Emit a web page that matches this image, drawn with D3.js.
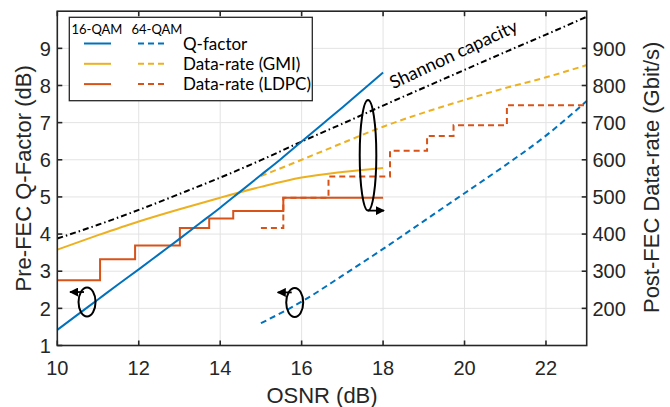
<!DOCTYPE html>
<html><head><meta charset="utf-8">
<script src="https://cdn.jsdelivr.net/npm/d3@7"></script>
<style>
html,body{margin:0;padding:0;background:#fff;}
svg{display:block;}
</style></head>
<body>
<svg id="chart" width="670" height="407"></svg>
<script>
// ---- data ----
const xTicks = [10, 12, 14, 16, 18, 20, 22];
const yLeftTicks = [1, 2, 3, 4, 5, 6, 7, 8, 9];
const yRightTicks = [200, 300, 400, 500, 600, 700, 800, 900];

// Q-factor (dB) vs OSNR (dB)
const q16Osnr = [10, 10.5, 11, 11.5, 12, 12.5, 13, 13.5, 14, 14.5, 15, 15.5, 16, 16.5, 17, 17.5, 18];
const q16Val  = [1.42, 1.83, 2.24, 2.65, 3.05, 3.46, 3.87, 4.29, 4.71, 5.15, 5.59, 6.03, 6.49, 6.95, 7.41, 7.88, 8.35];
const q64Osnr = [15, 16, 17, 18, 19, 20, 21, 22, 23];
const q64Val  = [1.6, 2.18, 2.88, 3.6, 4.35, 5.1, 5.85, 6.65, 7.58];

// Data-rate (GMI), Gbit/s
const gmi16Osnr = [10, 11, 12, 13, 14, 15, 16, 17, 18];
const gmi16Val  = [358, 397, 434, 467, 498, 527, 552, 567, 578];
const gmi64Osnr = [15, 16, 17, 18, 19, 20, 21, 22, 23];
const gmi64Val  = [556, 600, 645, 689, 727, 761, 793, 822, 855];

// Data-rate (LDPC), Gbit/s (step changes)
const ldpc16Osnr = [10, 11.05, 11.91, 13.01, 13.73, 14.32, 15.55, 18];
const ldpc16Val  = [276, 332, 369, 416, 442, 462, 498, 498];
const ldpc64Osnr = [15.0, 15.55, 16.66, 18.17, 19.08, 19.73, 21.04, 23];
const ldpc64Val  = [416, 498, 555, 624, 664, 693, 747, 747];

// Shannon capacity, Gbit/s
const shannonOsnr = [10, 11, 12, 13, 14, 15, 16, 17, 18, 19, 20, 21, 22, 23];
const shannonVal  = [388, 425, 465, 508, 552, 599, 649, 697, 746, 794, 842, 890, 937, 985];

// annotation ellipses (data coords: osnr, left-axis value)
const ellipseOsnr = [10.73, 15.83, 17.63];
const ellipseQ    = [2.17, 2.16, 6.12];

// ---- layout ----
const L = 57.3, R = 586.7, T = 11.2, B = 345.5;
const svg = d3.select("#chart");

const x = d3.scaleLinear().domain([10, 23]).range([L, R]);
const yL = d3.scaleLinear().domain([1, 10]).range([B, T]);
const yR = d3.scaleLinear().domain([100, 1000]).range([B, T]);

const C_BLUE = "#0072BD", C_YEL = "#EDB120", C_RED = "#D95319";
const tickFont = "'Liberation Sans', Arial, sans-serif";
const legFont = "Lato, 'Open Sans', sans-serif";

// grid
const grid = svg.append("g");
grid.selectAll("line.gx").data(xTicks.filter(d => d > 10)).join("line")
  .attr("x1", d => x(d)).attr("x2", d => x(d)).attr("y1", T).attr("y2", B)
  .attr("stroke", "#e3e3e3").attr("stroke-width", 1);
grid.selectAll("line.gy").data(yLeftTicks.filter(d => d > 1)).join("line")
  .attr("x1", L).attr("x2", R).attr("y1", d => yL(d)).attr("y2", d => yL(d))
  .attr("stroke", "#e3e3e3").attr("stroke-width", 1);

const plot = svg.append("g");
function zip(a, b) { return a.map((v, i) => [v, b[i]]); }
function drawLine(xs, ys, yScale, color, dash, curve) {
  const gen = d3.line().x(d => x(d[0])).y(d => yScale(d[1])).curve(curve || d3.curveMonotoneX);
  plot.append("path").datum(zip(xs, ys)).attr("d", gen)
    .attr("fill", "none").attr("stroke", color).attr("stroke-width", 2)
    .attr("stroke-dasharray", dash || null);
}
const DASH = "6,4";
drawLine(shannonOsnr, shannonVal, yR, "#000", "6,3,1.5,3");
drawLine(gmi16Osnr, gmi16Val, yR, C_YEL);
drawLine(gmi64Osnr, gmi64Val, yR, C_YEL, DASH);
drawLine(ldpc64Osnr, ldpc64Val, yR, C_RED, DASH, d3.curveStepAfter);
drawLine(ldpc16Osnr, ldpc16Val, yR, C_RED, null, d3.curveStepAfter);
drawLine(q16Osnr, q16Val, yL, C_BLUE);
drawLine(q64Osnr, q64Val, yL, C_BLUE, DASH);

// axes box
const ax = svg.append("g").attr("stroke", "#262626").attr("stroke-width", 1.6);
ax.append("rect").attr("x", L).attr("y", T).attr("width", R - L).attr("height", B - T)
  .attr("fill", "none");
const TL = 5;
xTicks.forEach(d => {
  ax.append("line").attr("x1", x(d)).attr("x2", x(d)).attr("y1", B).attr("y2", B - TL);
  ax.append("line").attr("x1", x(d)).attr("x2", x(d)).attr("y1", T).attr("y2", T + TL);
});
yLeftTicks.forEach(d => {
  ax.append("line").attr("x1", L).attr("x2", L + TL).attr("y1", yL(d)).attr("y2", yL(d));
});
yRightTicks.forEach(d => {
  ax.append("line").attr("x1", R).attr("x2", R - TL).attr("y1", yR(d)).attr("y2", yR(d));
});

// tick labels
const tl = svg.append("g").attr("font-family", tickFont).attr("font-size", 20).attr("fill", "#262626");
tl.selectAll("text.xt").data(xTicks).join("text")
  .attr("x", d => x(d)).attr("y", 374.5).attr("text-anchor", "middle").text(d => d);
tl.selectAll("text.yl").data(yLeftTicks).join("text")
  .attr("x", L - 6.5).attr("y", d => yL(d) + 7.2).attr("text-anchor", "end").text(d => d);
tl.selectAll("text.yr").data(yRightTicks).join("text")
  .attr("x", R + 5.7).attr("y", d => yR(d) + 7.2).attr("text-anchor", "start").text(d => d);

// axis titles
const at = svg.append("g").attr("font-family", tickFont).attr("font-size", 22).attr("fill", "#262626");
at.append("text").attr("x", (L + R) / 2).attr("y", 402.5).attr("text-anchor", "middle").text("OSNR (dB)");
at.append("text").attr("transform", `translate(30.5,${(T + B) / 2}) rotate(-90)`)
  .attr("text-anchor", "middle").text("Pre-FEC Q-Factor (dB)");
at.append("text").attr("transform", `translate(659,${(T + B) / 2 - 1}) rotate(-90)`)
  .attr("text-anchor", "middle").text("Post-FEC Data-rate (Gbit/s)");

// annotations
svg.append("defs").html(`
  <marker id="ah" viewBox="0 0 10 10" refX="9" refY="5" markerWidth="5" markerHeight="5" orient="auto-start-reverse">
    <path d="M0,0 L10,5 L0,10 z" fill="#000"/>
  </marker>`);
const ann = svg.append("g").attr("stroke", "#000").attr("stroke-width", 2).attr("fill", "none");
const ellRx = [8.5, 8.5, 8.3], ellRy = [14.5, 14.5, 55.3];
ellipseOsnr.forEach((o, i) => {
  ann.append("ellipse").attr("cx", x(o)).attr("cy", yL(ellipseQ[i])).attr("rx", ellRx[i]).attr("ry", ellRy[i]);
});
[0, 1].forEach(i => {
  const cx = x(ellipseOsnr[i]), cy = yL(ellipseQ[i]) - 10;
  ann.append("line").attr("x1", cx - 3).attr("y1", cy).attr("x2", cx - 17).attr("y2", cy)
    .attr("stroke-width", 1.8).attr("marker-end", "url(#ah)");
});
{
  const cx = x(ellipseOsnr[2]), cy = yL(ellipseQ[2]) + ellRy[2];
  ann.append("line").attr("x1", cx).attr("y1", cy).attr("x2", cx + 16).attr("y2", cy)
    .attr("stroke-width", 1.8).attr("marker-end", "url(#ah)");
}

// Shannon capacity label
svg.append("text").attr("font-family", legFont).attr("font-size", 18).attr("fill", "#000")
  .attr("transform", `translate(${x(18.25)},${yL(7.9)}) rotate(-25)`)
  .text("Shannon capacity");

// legend
const lg = svg.append("g");
lg.append("rect").attr("x", 69.3).attr("y", 17.3).attr("width", 243).attr("height", 83.4)
  .attr("fill", "#fff").attr("stroke", "#262626").attr("stroke-width", 1.3);
lg.append("text").attr("x", 71.5).attr("y", 33.5).attr("font-family", legFont).attr("font-size", 13).text("16-QAM");
lg.append("text").attr("x", 131.5).attr("y", 33.5).attr("font-family", legFont).attr("font-size", 13).text("64-QAM");
const legNames = ["Q-factor", "Data-rate (GMI)", "Data-rate (LDPC)"];
const legColors = [C_BLUE, C_YEL, C_RED];
legNames.forEach((n, i) => {
  const yy = 43.5 + i * 20.3;
  lg.append("line").attr("x1", 84).attr("x2", 111).attr("y1", yy).attr("y2", yy)
    .attr("stroke", legColors[i]).attr("stroke-width", 2);
  lg.append("line").attr("x1", 138).attr("x2", 165).attr("y1", yy).attr("y2", yy)
    .attr("stroke", legColors[i]).attr("stroke-width", 2).attr("stroke-dasharray", "6,4");
  lg.append("text").attr("x", 183).attr("y", yy + 6).attr("font-family", legFont)
    .attr("font-size", 17).attr("fill", "#000").text(n);
});
</script>
</body></html>
